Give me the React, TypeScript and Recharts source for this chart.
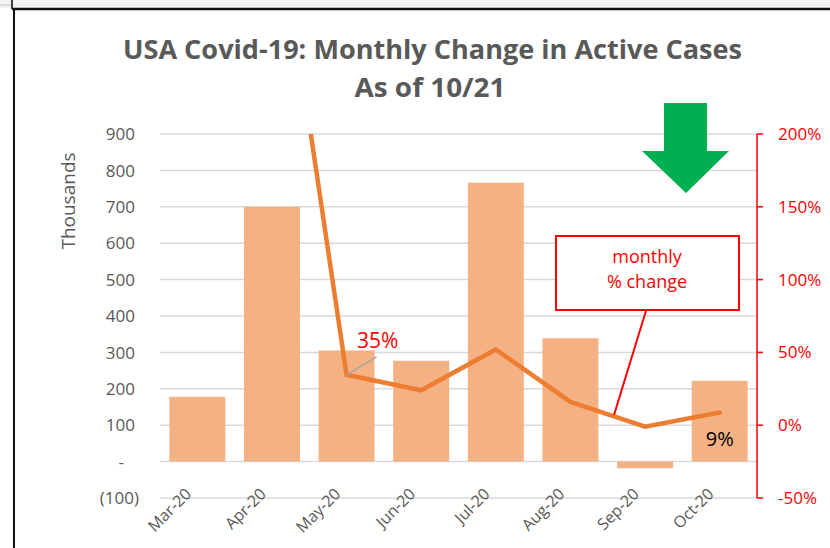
import {
  Bar,
  CartesianGrid,
  ComposedChart,
  LabelList,
  Line,
  XAxis,
  YAxis,
} from "recharts";

const months = ["Mar-20", "Apr-20", "May-20", "Jun-20", "Jul-20", "Aug-20", "Sep-20", "Oct-20"];
// change in active cases, thousands
const activeChangeK = [178, 700, 305, 277, 766, 339, -18, 222];
// monthly % change (Apr runs off the top of the axis)
const monthlyPct: (number | null)[] = [null, 380, 34.6, 24, 52, 16, -1, 8.7];
const leftTicks = [-100, 0, 100, 200, 300, 400, 500, 600, 700, 800, 900];
const rightTicks = [-50, 0, 50, 100, 150, 200];
const labelledMonths = ["May-20", "Oct-20"];

const data = months.map((m, i) => ({ month: m, change: activeChangeK[i], pct: monthlyPct[i] }));

const grey = "#595959";
const red = "#FF0000";

function LeftTick({ x, y, payload }: any) {
  const v = payload.value as number;
  let text = String(v);
  let dx = -25;
  if (v < 0) {
    text = `(${Math.abs(v)})`;
    dx = -21;
  } else if (v === 0) {
    text = "-";
    dx = -36;
  }
  return (
    <text x={x + dx} y={y} dy="0.36em" textAnchor="end" fontSize={17} fill={grey}>
      {text}
    </text>
  );
}

function MonthTick({ x, y, payload }: any) {
  const tx = x - 5;
  const ty = y - 3;
  return (
    <text x={tx} y={ty} textAnchor="end" fontSize={16} fill={grey} transform={`rotate(-45, ${tx}, ${ty})`}>
      {payload.value}
    </text>
  );
}

function PctLabel(props: any) {
  const { x, y, value, index } = props;
  const m = months[index];
  if (!labelledMonths.includes(m) || value == null) return null;
  const txt = `${Math.round(value)}%`;
  if (m === "May-20") {
    return (
      <g>
        <line x1={x} y1={y} x2={x + 30} y2={y - 18} stroke="#A6A6A6" strokeWidth={1.5} />
        <text x={x + 31} y={y - 27} textAnchor="middle" fontSize={21} fill={red}>
          {txt}
        </text>
      </g>
    );
  }
  return (
    <text x={x} y={y + 33} textAnchor="middle" fontSize={20} fill="#000">
      {txt}
    </text>
  );
}

export default function App() {
  return (
    <div
      style={{
        position: "absolute",
        left: 0,
        top: 0,
        width: 830,
        height: 548,
        background: "#fff",
        fontFamily: "'Open Sans', sans-serif",
      }}
    >
      <ComposedChart
        width={830}
        height={548}
        data={data}
        margin={{ top: 134, right: 0, bottom: 0, left: 0 }}
        barCategoryGap="12.5%"
      >
        <CartesianGrid yAxisId="left" vertical={false} stroke="#D9D9D9" strokeWidth={1.5} />
        <XAxis
          dataKey="month"
          height={50}
          axisLine={false}
          tickLine={false}
          tickSize={0}
          tickMargin={0}
          interval={0}
          tick={<MonthTick />}
        />
        <YAxis
          yAxisId="left"
          width={160}
          domain={[-100, 900]}
          ticks={leftTicks}
          axisLine={false}
          tickLine={false}
          tickSize={0}
          tickMargin={0}
          tick={<LeftTick />}
        />
        <YAxis
          yAxisId="right"
          orientation="right"
          width={73}
          domain={[-50, 200]}
          ticks={rightTicks}
          allowDataOverflow
          axisLine={{ stroke: red, strokeWidth: 1.5 }}
          tickLine={{ stroke: red, strokeWidth: 1.5 }}
          tickSize={6}
          tickMargin={15}
          tickFormatter={(v: number) => `${v}%`}
          tick={{ fill: red, fontSize: 17 }}
        />
        <Bar yAxisId="left" dataKey="change" fill="#F4B183" isAnimationActive={false} />
        <Line
          yAxisId="right"
          dataKey="pct"
          type="linear"
          stroke="#ED7D31"
          strokeWidth={4.5}
          strokeLinecap="round"
          dot={false}
          activeDot={false}
          isAnimationActive={false}
        >
          <LabelList dataKey="pct" content={<PctLabel />} />
        </Line>
      </ComposedChart>

      <svg
        width={830}
        height={548}
        style={{ position: "absolute", left: 0, top: 0, pointerEvents: "none" }}
      >
        {/* sheet frame */}
        <rect x={0} y={0} width={830} height={8} fill="#F2F2F2" />
        <line x1={0} y1={5} x2={12} y2={5} stroke="#C8C8C8" strokeWidth={1} />
        <line x1={12} y1={0} x2={12} y2={9} stroke="#000" strokeWidth={1.5} />
        <line x1={12} y1={9} x2={830} y2={9} stroke="#111" strokeWidth={2.5} />
        <line x1={14} y1={9} x2={14} y2={548} stroke="#111" strokeWidth={2} />

        <text x={432.5} y={59} textAnchor="middle" fontSize={27} fontWeight={700} fill={grey} textLength={619} lengthAdjust="spacingAndGlyphs">
          USA Covid-19: Monthly Change in Active Cases
        </text>
        <text x={430} y={97} textAnchor="middle" fontSize={27} fontWeight={700} fill={grey} textLength={151} lengthAdjust="spacingAndGlyphs">
          As of 10/21
        </text>

        <text x={75} y={201} textAnchor="middle" fontSize={19} fill={grey} transform="rotate(-90, 75, 201)">
          Thousands
        </text>

        {/* green down arrow */}
        <polygon
          points="664,103 707,103 707,151 729,151 686,193 642,151 664,151"
          fill="#00B050"
        />

        {/* callout */}
        <line x1={649} y1={301} x2={614} y2={415} stroke={red} strokeWidth={2} />
        <rect x={556} y={236} width={183} height={74} fill="#fff" stroke={red} strokeWidth={2} />
        <text x={647} y={263} textAnchor="middle" fontSize={18} fill={red}>
          monthly
        </text>
        <text x={647} y={288} textAnchor="middle" fontSize={18} fill={red}>
          % change
        </text>
      </svg>
    </div>
  );
}
